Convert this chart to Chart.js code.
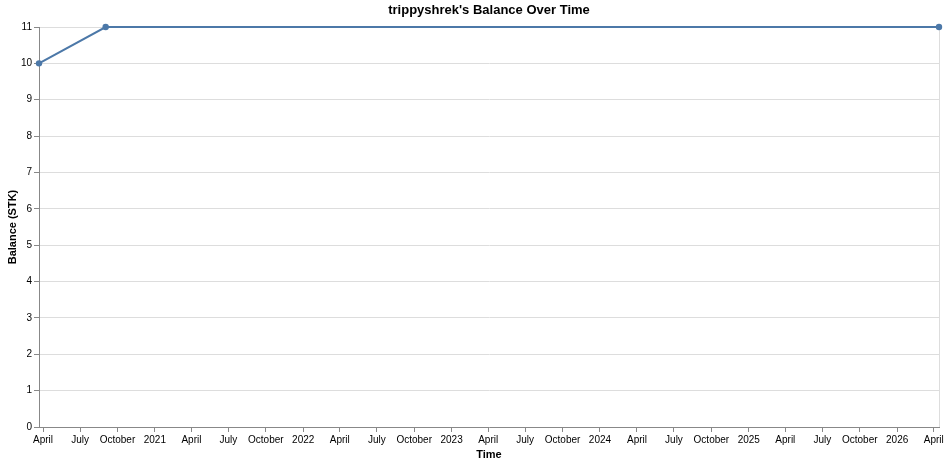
<!DOCTYPE html>
<html><head><meta charset="utf-8">
<script src="https://cdn.jsdelivr.net/npm/chart.js@4/dist/chart.umd.min.js"></script>
<style>html,body{margin:0;padding:0;background:#fff}#wrap{width:949px;height:464px}</style>
</head><body><div id="wrap"><canvas id="c" width="949" height="464"></canvas></div>
<script>
const titleText = "trippyshrek's Balance Over Time";
const dates = ['2020-03-22', '2020-09-02', '2026-04-14'];
const balances = [10, 11, 11];
const tickYears = [2020, 2021, 2022, 2023, 2024, 2025, 2026];
const tickMonths = [0, 3, 6, 9];
const monthNames = ['January','February','March','April','May','June','July','August','September','October','November','December'];
const yTicks = [0,1,2,3,4,5,6,7,8,9,10,11];

function toMs(s){const p=s.split('-').map(Number);return Date.UTC(p[0],p[1]-1,p[2]);}
const xMin = toMs(dates[0]), xMax = toMs(dates[dates.length-1]);
const tickValues = [];
tickYears.forEach(y=>tickMonths.forEach(m=>{const t=Date.UTC(y,m,1); if(t>=xMin && t<=xMax) tickValues.push(t);}));
function fmt(v){const d=new Date(v); return d.getUTCMonth()===0 ? String(d.getUTCFullYear()) : monthNames[d.getUTCMonth()];}

const frame = {id:'frame',
  beforeDatasetsDraw(chart){const a=chart.chartArea,ctx=chart.ctx;ctx.save();ctx.strokeStyle='#ddd';ctx.lineWidth=1;ctx.beginPath();ctx.moveTo(a.right+0.5,a.top);ctx.lineTo(a.right+0.5,a.bottom);ctx.stroke();ctx.restore();},
  afterDraw(chart){const a=chart.chartArea,ctx=chart.ctx;ctx.save();ctx.fillStyle='#000';ctx.font='bold 13px Arial, "Liberation Sans", sans-serif';ctx.textAlign='center';ctx.textBaseline='middle';ctx.fillText(titleText,(a.left+a.right)/2,10.5);ctx.restore();}
};

Chart.defaults.font.family = 'Arial, "Liberation Sans", sans-serif';
new Chart(document.getElementById('c'), {
  type: 'line',
  data: { datasets: [{
    data: dates.map((d,i)=>({x: toMs(d), y: balances[i]})),
    borderColor: '#4c78a8', backgroundColor: '#4c78a8', borderWidth: 2,
    pointRadius: 3.2, pointHoverRadius: 3.2, pointBorderWidth: 0, tension: 0, clip: false
  }]},
  options: {
    responsive: false, animation: false, devicePixelRatio: 1,
    layout: { padding: { left: 0, right: 10, top: 27, bottom: 0 } },
    plugins: { legend: { display: false }, tooltip: { enabled: false }, title: { display: false } },
    scales: {
      x: {
        type: 'linear', min: xMin, max: xMax,
        afterBuildTicks(s){ s.ticks = tickValues.map(v=>({value:v})); },
        afterFit(s){ s.height = 37; },
        ticks: { callback: v=>fmt(v), autoSkip: false, maxRotation: 0, color: '#000', font: { size: 10 }, padding: 2 },
        grid: { drawOnChartArea: false, drawTicks: true, tickLength: 5, tickColor: '#888' },
        border: { color: '#888' },
        title: { display: true, text: 'Time', color: '#000', font: { size: 11, weight: 'bold' }, padding: { top: 0, bottom: 2 } }
      },
      y: {
        min: 0, max: 11,
        afterBuildTicks(s){ s.ticks = yTicks.map(v=>({value:v})); },
        afterFit(s){ s.width = 39; },
        ticks: { color: '#000', font: { size: 10 }, padding: 2 },
        grid: { color: '#ddd', tickColor: '#888', tickLength: 5 },
        border: { color: '#888' },
        title: { display: true, text: 'Balance (STK)', color: '#000', font: { size: 11, weight: 'bold' }, padding: { top: 6, bottom: 0 } }
      }
    }
  },
  plugins: [frame]
});
</script></body></html>
